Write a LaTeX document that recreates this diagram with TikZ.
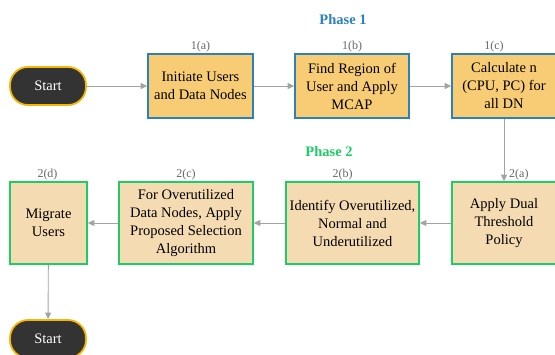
\documentclass[tikz,border=0pt]{standalone}
\usepackage{fontspec}
\setmainfont{Liberation Serif}
\usetikzlibrary{arrows.meta}
\definecolor{pblue}{HTML}{2B82B8}
\definecolor{pgreen}{HTML}{1ECC66}
\definecolor{fillA}{HTML}{F7CC75}
\definecolor{fillB}{HTML}{F5DBB1}
\definecolor{startbd}{HTML}{F5B700}
\definecolor{darkfill}{HTML}{333333}
\definecolor{arrgray}{HTML}{A3A3A3}
\definecolor{lblgray}{HTML}{666666}
\tikzset{
  boxA/.style={draw=pblue, line width=1.6pt, fill=fillA, align=center, inner sep=0pt,
    font=\fontsize{14.5}{18}\selectfont, minimum height=64pt},
  boxB/.style={draw=pgreen, line width=1.6pt, fill=fillB, align=center, inner sep=0pt,
    font=\fontsize{14.5}{18}\selectfont, minimum height=82pt},
  startbox/.style={draw=startbd, line width=1.8pt, fill=darkfill, text=white,
    rounded corners=18pt, minimum width=76pt, minimum height=38pt,
    font=\fontsize{14.5}{18}\selectfont},
  steplbl/.style={text=lblgray, font=\fontsize{12}{14}\selectfont, inner sep=1pt},
  phase/.style={font=\fontsize{14.5}{18}\selectfont\bfseries},
  conn/.style={draw=arrgray, line width=0.9pt, -{Triangle[length=6.5pt,width=6pt]}}
}
\begin{document}
\begin{tikzpicture}[x=1pt,y=-1pt]
\useasboundingbox (0,0) rectangle (555,354);
% Phase titles
\node[phase, text=pblue] (ph1) at (343,20) {Phase 1};
\node[phase, text=pgreen] (ph2) at (329,152) {Phase 2};
% Row 1
\node[startbox] (s1) at (48,86) {Start};
\node[boxA, minimum width=105pt] (a) at (200.5,86) {Initiate Users\\and Data Nodes};
\node[boxA, minimum width=114pt] (b) at (352,86) {Find Region of\\User and Apply\\MCAP};
\node[boxA, minimum width=104pt] (c) at (504,86) {Calculate n\\(CPU, PC) for\\all DN};
% Row 2
\node[boxB, minimum width=104pt] (d) at (504,223) {Apply Dual\\Threshold\\Policy};
\node[boxB, minimum width=133pt] (e) at (352.5,223) {Identify Overutilized,\\Normal and\\Underutilized};
\node[boxB, minimum width=134pt] (f) at (186,223) {For Overutilized\\Data Nodes, Apply\\Proposed Selection\\Algorithm};
\node[boxB, minimum width=77pt] (g) at (48.5,223) {Migrate\\Users};
\node[startbox] (s2) at (48,339) {Start};
% Step labels
\node[steplbl, anchor=south] (la) at (a.north) {1(a)};
\node[steplbl, anchor=south] (lb) at (b.north) {1(b)};
\node[steplbl, anchor=south] (lc) at ([xshift=-10pt]c.north) {1(c)};
\node[steplbl, anchor=south west] (ld) at ([xshift=4pt]d.north) {2(a)};
\node[steplbl, anchor=south] (le) at ([xshift=-10pt]e.north) {2(b)};
\node[steplbl, anchor=south] (lf) at (f.north) {2(c)};
\node[steplbl, anchor=south] (lg) at ([xshift=-1pt]g.north) {2(d)};
% Connectors
\draw[conn] (s1) -- (a);
\draw[conn] (a) -- (b);
\draw[conn] (b) -- (c);
\draw[conn] (c) -- (d);
\draw[conn] (d) -- (e);
\draw[conn] (e) -- (f);
\draw[conn] (f) -- (g);
\draw[conn] (g) -- (s2);
\end{tikzpicture}
\end{document}
